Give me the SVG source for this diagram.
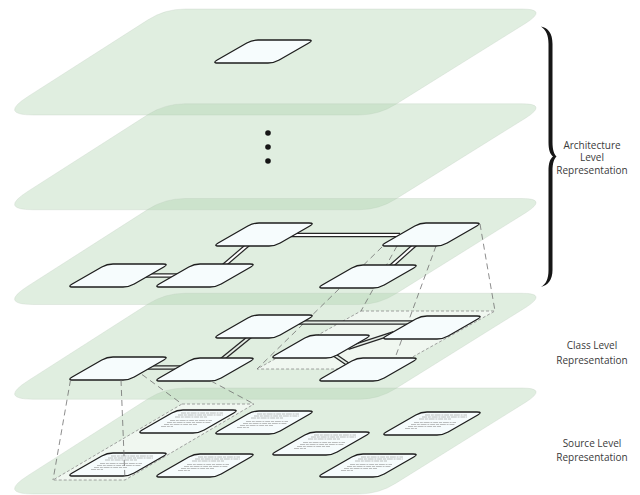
<svg xmlns="http://www.w3.org/2000/svg" xmlns:xlink="http://www.w3.org/1999/xlink" width="640" height="495" viewBox="0 0 640 495">
<style>
.plane{fill:#a8cfa8;fill-opacity:.36;stroke:#b8c8b8;stroke-opacity:.35;stroke-width:.8}
.region{fill:#ffffff;fill-opacity:.5;stroke:#8c8c8c;stroke-width:.8;stroke-dasharray:3 2}
.node{fill:#f6fcfd;stroke:#1e1e1e;stroke-width:1.3;stroke-linejoin:round}
.co{stroke:#262626;stroke-width:4.4;stroke-linecap:butt}
.ci{stroke:#ffffff;stroke-width:2;stroke-linecap:butt}
.ci4{stroke:#e4ece4;stroke-width:1.8;stroke-linecap:butt}
.proj{fill:none;stroke:#707070;stroke-width:.8;stroke-dasharray:6 4}
.src{fill:none;stroke:#8a8a8a;stroke-width:.55;stroke-dasharray:5 .8 3 .8 6 .8 2 .8}
.lbl{font-family:"Open Sans","Liberation Sans",sans-serif;font-size:10px;fill:#3a3a3a;text-anchor:middle}
</style>
<defs>
<path id="pl" d="M185,9 L522,9 Q548,9 526.1,23 L395.9,104.2 Q379,115 359,115 L33,115 Q-1,115 27.7,96.7 L148,19.8 Q165,9 185,9 Z"/>
<path id="nd" d="M6,0 L56,0 Q62,0 67.2,-3 L96.8,-20 Q102,-23 96,-23 L46,-23 Q40,-23 34.8,-20 L5.2,-3 Q0,0 6,0 Z"/>
<g id="txt">
<line x1="44" y1="-20" x2="86" y2="-20"/>
<line x1="41" y1="-18" x2="86" y2="-18"/>
<line x1="38" y1="-16" x2="70" y2="-16"/>
<line x1="33" y1="-12.5" x2="75" y2="-12.5"/>
<line x1="30" y1="-10.5" x2="74" y2="-10.5"/>
<line x1="27" y1="-8.5" x2="60" y2="-8.5"/>
<line x1="24" y1="-6.5" x2="36" y2="-6.5"/>
</g>
</defs>

<g id="planes">
<use xlink:href="#pl" class="plane"/>
<use xlink:href="#pl" class="plane" transform="translate(0,94.75)"/>
<use xlink:href="#pl" class="plane" transform="translate(0,189.5)"/>
<use xlink:href="#pl" class="plane" transform="translate(0,284.25)"/>
<use xlink:href="#pl" class="plane" transform="translate(0,379)"/>
</g>

<g id="regions">
<path class="region" d="M361,311 L495,311 L391,369 L257,369 Z"/>
<path class="region" d="M182,404 L254,404 L125,480 L53,480 Z"/>
</g>

<g id="ellipsis" fill="#151515">
<circle cx="268" cy="133" r="2.8"/>
<circle cx="268" cy="147" r="2.8"/>
<circle cx="268" cy="161" r="2.8"/>
</g>

<g id="projection-architecture-class">
<line class="proj" x1="480" y1="224" x2="495" y2="311"/>
<line class="proj" x1="436" y1="246" x2="391" y2="369"/>
<line class="proj" x1="397" y1="246" x2="361" y2="311"/>
<line class="proj" x1="382" y1="247" x2="257" y2="369"/>
</g>

<g id="connectors">
<g><line class="co" x1="285" y1="235" x2="400" y2="235"/><line class="ci" x1="285" y1="235" x2="400" y2="235"/></g>
<g><line class="co" x1="250" y1="243" x2="222" y2="267"/><line class="ci" x1="250" y1="243" x2="222" y2="267"/></g>
<g><line class="co" x1="145" y1="275.5" x2="182" y2="275.5"/><line class="ci" x1="145" y1="275.5" x2="182" y2="275.5"/></g>
<g><line class="co" x1="417" y1="243" x2="389" y2="268"/><line class="ci" x1="417" y1="243" x2="389" y2="268"/></g>
<g><line class="co" x1="298" y1="322.5" x2="415" y2="322.5"/><line class="ci4" x1="298" y1="322.5" x2="415" y2="322.5"/></g>
<g><line class="co" x1="252" y1="335" x2="220" y2="361"/><line class="ci4" x1="252" y1="335" x2="220" y2="361"/></g>
<g><line class="co" x1="145" y1="367.5" x2="183" y2="367.5"/><line class="ci4" x1="145" y1="367.5" x2="183" y2="367.5"/></g>
<g><line class="co" x1="348" y1="348" x2="394" y2="333"/><line class="ci4" x1="348" y1="348" x2="394" y2="333"/></g>
<g><line class="co" x1="333" y1="354" x2="352" y2="367"/><line class="ci4" x1="333" y1="354" x2="352" y2="367"/></g>
</g>

<g id="nodes">
<g id="arch-top"><use xlink:href="#nd" class="node" x="212" y="63"/></g>
<g id="arch-a"><use xlink:href="#nd" class="node" x="213" y="246"/></g>
<g id="arch-b"><use xlink:href="#nd" class="node" x="380" y="246"/></g>
<g id="arch-c"><use xlink:href="#nd" class="node" x="67" y="287"/></g>
<g id="arch-d"><use xlink:href="#nd" class="node" x="154" y="287"/></g>
<g id="arch-e"><use xlink:href="#nd" class="node" x="317" y="288"/></g>
<g id="class-f"><use xlink:href="#nd" class="node" x="213" y="338"/></g>
<g id="class-g"><use xlink:href="#nd" class="node" x="381" y="339"/></g>
<g id="class-h"><use xlink:href="#nd" class="node" x="270" y="358"/></g>
<g id="class-i"><use xlink:href="#nd" class="node" x="317" y="381"/></g>
<g id="class-j"><use xlink:href="#nd" class="node" x="67" y="380"/></g>
<g id="class-k"><use xlink:href="#nd" class="node" x="154" y="381"/></g>
<g id="src-1"><use xlink:href="#nd" class="node" x="137" y="433"/><use xlink:href="#txt" class="src" x="137" y="433"/></g>
<g id="src-2"><use xlink:href="#nd" class="node" x="213" y="434"/><use xlink:href="#txt" class="src" x="213" y="434"/></g>
<g id="src-3"><use xlink:href="#nd" class="node" x="381" y="435"/><use xlink:href="#txt" class="src" x="381" y="435"/></g>
<g id="src-4"><use xlink:href="#nd" class="node" x="270" y="455"/><use xlink:href="#txt" class="src" x="270" y="455"/></g>
<g id="src-5"><use xlink:href="#nd" class="node" x="67" y="476"/><use xlink:href="#txt" class="src" x="67" y="476"/></g>
<g id="src-6"><use xlink:href="#nd" class="node" x="154" y="477"/><use xlink:href="#txt" class="src" x="154" y="477"/></g>
<g id="src-7"><use xlink:href="#nd" class="node" x="317" y="477"/><use xlink:href="#txt" class="src" x="317" y="477"/></g>
</g>

<g id="projection-class-source">
<line class="proj" x1="70.5" y1="380" x2="53" y2="480"/>
<line class="proj" x1="121" y1="380" x2="125" y2="480"/>
<line class="proj" x1="142" y1="374.5" x2="182" y2="404"/>
<line class="proj" x1="211" y1="381" x2="254" y2="404"/>
</g>

<g id="brace">
<path fill="#161616" d="M541,26.5 C548,28 552.5,33 552.5,44 L552.5,142 C552.5,150 554,154 556.5,156.5 C554,159 552.5,163 552.5,171 L552.5,270 C552.5,280 548,285 541,287 C546,284 548.5,279 548.5,270 L548.5,171 C548.5,163 550,159 553,156.5 C550,154 548.5,150 548.5,142 L548.5,44 C548.5,35 546,30 541,26.5 Z"/>
</g>

<g id="labels">
<text class="lbl" x="592" y="148.5">Architecture</text>
<text class="lbl" x="592" y="161">Level</text>
<text class="lbl" x="592" y="173.5">Representation</text>
<text class="lbl" x="592" y="349">Class Level</text>
<text class="lbl" x="592" y="363.5">Representation</text>
<text class="lbl" x="592" y="446.5">Source Level</text>
<text class="lbl" x="592" y="461">Representation</text>
</g>
</svg>
